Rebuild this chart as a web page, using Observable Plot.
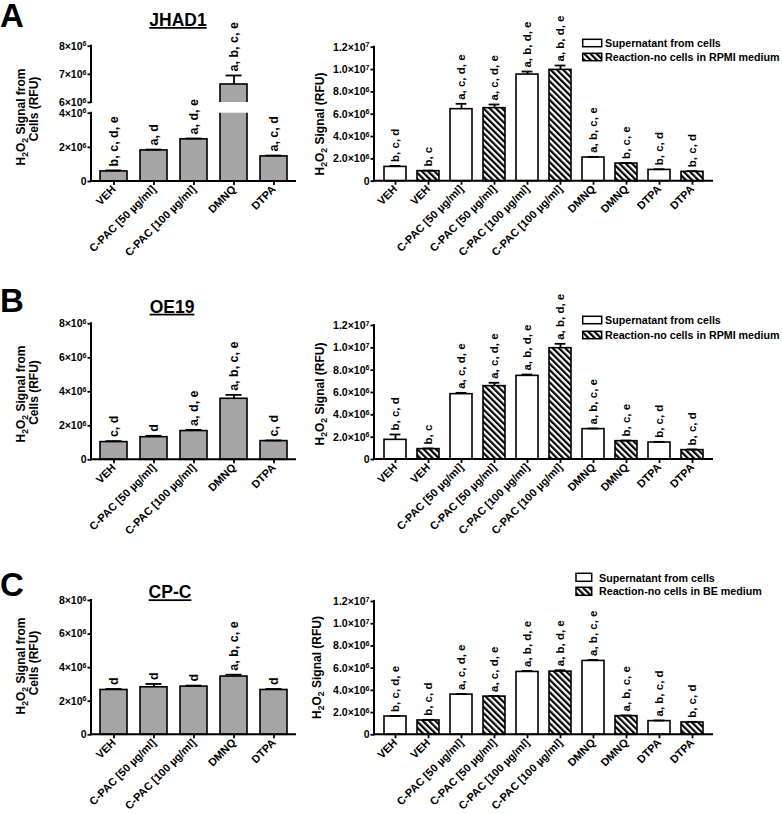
<!DOCTYPE html>
<html><head><meta charset="utf-8">
<script src="https://cdn.jsdelivr.net/npm/d3@7"></script>
<script src="https://cdn.jsdelivr.net/npm/@observablehq/plot@0.6"></script>
<style>
html,body{margin:0;padding:0;background:#fff;}
#fig{position:relative;width:782px;height:814px;overflow:hidden;font-family:"Liberation Sans",Arial,sans-serif;}
</style></head><body><div id="fig"></div>
<script>
// ---------------- DATA ----------------
const treatments = ["VEH", "C-PAC [50 µg/ml]", "C-PAC [100 µg/ml]", "DMNQ", "DTPA"];
const cellLines = ["JHAD1", "OE19", "CP-C"];
const panelLetters = ["A", "B", "C"];
const legendSupernatant = "Supernatant from cells";
const legendReaction = ["Reaction-no cells in RPMI medium", "Reaction-no cells in RPMI medium", "Reaction-no cells in BE medium"];
const leftAxisTitle = ["H₂O₂ Signal from", "Cells  (RFU)"];
const rightAxisTitle = "H₂O₂ Signal (RFU)";

// y ticks and labels
const cellTicksBroken = [0, 2e6, 4e6, 6e6, 7e6, 8e6];
const cellTickLabelsBroken = ["0", "2×10⁶", "4×10⁶", "6×10⁶", "7×10⁶", "8×10⁶"];
const cellTicks = [0, 2e6, 4e6, 6e6, 8e6];
const cellTickLabels = ["0", "2×10⁶", "4×10⁶", "6×10⁶", "8×10⁶"];
const supTicks = [0, 2e6, 4e6, 6e6, 8e6, 1e7, 1.2e7];
const supTickLabels = ["0", "2.0×10⁶", "4.0×10⁶", "6.0×10⁶", "8.0×10⁶", "1.0×10⁷", "1.2×10⁷"];
const brokenAxisDomain = [0, 4e6, 6e6, 8e6];

// JHAD1
const jhad1Cells = [0.59e6, 1.82e6, 2.47e6, 6.64e6, 1.47e6];
const jhad1CellsSem = [0.06e6, 0.05e6, 0.05e6, 0.32e6, 0.05e6];
const jhad1CellsLetters = ["b, c, d, e", "a, d", "a, d, e", "a, b, c, e", "a, c, d"];
const jhad1Sup = [1.28e6, 6.45e6, 9.55e6, 2.12e6, 1.01e6];
const jhad1SupSem = [0.09e6, 0.48e6, 0.27e6, 0.06e6, 0.06e6];
const jhad1SupLetters = ["b, c, d", "a, c, d, e", "a, b, d, e", "a, b, c, e", "b, c, d"];
const jhad1Rxn = [0.90e6, 6.54e6, 9.97e6, 1.58e6, 0.84e6];
const jhad1RxnSem = [0.05e6, 0.33e6, 0.39e6, 0.06e6, 0.06e6];
const jhad1RxnLetters = ["b, c", "a, c, d, e", "a, b, d, e", "b, c, e", "b, c, d"];

// OE19
const oe19Cells = [1.04e6, 1.33e6, 1.69e6, 3.59e6, 1.10e6];
const oe19CellsSem = [0.06e6, 0.08e6, 0.07e6, 0.23e6, 0.04e6];
const oe19CellsLetters = ["c, d", "d", "a, d, e", "a, b, c, e", "c, d"];
const oe19Sup = [1.76e6, 5.85e6, 7.49e6, 2.72e6, 1.52e6];
const oe19SupSem = [0.48e6, 0.12e6, 0.12e6, 0.06e6, 0.06e6];
const oe19SupLetters = ["b, c, d", "a, c, d, e", "a, b, d, e", "a, b, c, e", "b, c, d"];
const oe19Rxn = [0.93e6, 6.57e6, 9.97e6, 1.64e6, 0.84e6];
const oe19RxnSem = [0.06e6, 0.30e6, 0.39e6, 0.06e6, 0.06e6];
const oe19RxnLetters = ["b, c", "a, c, d, e", "a, b, d, e", "b, c, e", "b, c, d"];

// CP-C
const cpcCells = [2.67e6, 2.83e6, 2.87e6, 3.47e6, 2.67e6];
const cpcCellsSem = [0.06e6, 0.20e6, 0.06e6, 0.11e6, 0.06e6];
const cpcCellsLetters = ["d", "d", "d", "a, b, c, e", "d"];
const cpcSup = [1.65e6, 3.62e6, 5.66e6, 6.65e6, 1.23e6];
const cpcSupSem = [0.05e6, 0.06e6, 0.09e6, 0.09e6, 0.06e6];
const cpcSupLetters = ["b, c, d, e", "a, c, d, e", "a, b, d, e", "a, b, c, e", "a, b, c, d"];
const cpcRxn = [1.29e6, 3.44e6, 5.69e6, 1.68e6, 1.11e6];
const cpcRxnSem = [0.06e6, 0.06e6, 0.12e6, 0.06e6, 0.06e6];
const cpcRxnLetters = ["b, c, d", "a, c, d, e", "a, b, d, e", "a, b, c, e", "b, c, d"];

// ---------------- HELPERS ----------------
const NS = "http://www.w3.org/2000/svg";
function el(tag, attrs = {}, text) {
  const e = document.createElementNS(NS, tag);
  for (const k in attrs) e.setAttribute(k, attrs[k]);
  if (text != null) e.textContent = text;
  return e;
}
const FONT = "'Liberation Sans', Arial, sans-serif";
const SUPS = "⁰¹²³⁴⁵⁶⁷⁸⁹";
const fig = document.getElementById("fig");

function hatchPattern(id) {
  const p = el("pattern", {id, patternUnits: "userSpaceOnUse", width: 4.4, height: 4.4, patternTransform: "rotate(-45)"});
  p.append(el("rect", {width: 4.4, height: 4.4, fill: "white"}));
  p.append(el("rect", {width: 2.2, height: 4.4, fill: "black"}));
  return p;
}
function hatchDefs(id) {
  return () => { const d = el("defs"); d.append(hatchPattern(id)); return d; };
}
function axisLines(segments, tf) {
  const f = tf || (v => v);
  return (index, scales, values, dims) => {
    const g = el("g", {stroke: "black", "stroke-width": 2, "stroke-linecap": "square", fill: "none"});
    const xl = dims.marginLeft, xr = dims.width - dims.marginRight, y0 = scales.y(f(0));
    g.append(el("line", {x1: xl, x2: xr, y1: y0, y2: y0}));
    for (const [a, b] of segments) g.append(el("line", {x1: xl, x2: xl, y1: scales.y(f(a)), y2: scales.y(f(b))}));
    return g;
  };
}
function fixSuperscripts(svg) {
  svg.querySelectorAll('[aria-label="y-axis tick label"] text').forEach(t => {
    const s = t.textContent;
    const m = s.match(/^(.*×10)(.)$/);
    if (m) {
      t.textContent = m[1];
      const digit = String(SUPS.indexOf(m[2]));
      t.append(el("tspan", {dy: "-0.45em", "font-size": "0.68em"}, digit));
    }
  });
}

function makePlot(cfg, n, pad, marks) {
  const {left, top, width, height, x0, x1, y0, yTop, yDomain, yTransform} = cfg;
  const y = yTransform ? {domain: yDomain, transform: yTransform} : {domain: yDomain};
  const svg = Plot.plot({
    width, height,
    marginLeft: x0 - left, marginRight: left + width - x1,
    marginTop: yTop - top, marginBottom: top + height - y0,
    x: {type: "band", domain: d3.range(n), paddingInner: pad[0], paddingOuter: pad[1], align: 0.5},
    y,
    style: {position: "absolute", left: left + "px", top: top + "px", background: "transparent",
            overflow: "visible", fontFamily: FONT, fontWeight: "bold", color: "black"},
    marks
  });
  fixSuperscripts(svg);
  fig.append(svg);
}

function cellPanel(cfg, values, sem, letters, ticks, tickLabels, segments, gap) {
  const data = values.map((v, i) => ({i, v, e: v + sem[i], t: letters[i]}));
  // axis ticks are placed in the (possibly transformed) scale space
  const tickPos = cfg.yTransform ? ticks.map(cfg.yTransform) : ticks;
  const marks = [
    Plot.barY(data, {x: "i", y1: () => 0, y2: "v", fill: "#a6a6a6", stroke: "black", strokeWidth: 1.6})
  ];
  if (gap) marks.push(Plot.barY(data.filter(d => d.v > gap[1]),
    {x: "i", y1: () => gap[0], y2: () => gap[1], fill: "white", insetLeft: -2, insetRight: -2}));
  marks.push(
    Plot.ruleX(data, {x: "i", y1: "v", y2: "e", strokeWidth: 1.8}),
    Plot.tickY(data, {x: "i", y: "e", strokeWidth: 1.8, insetLeft: 5.5, insetRight: 5.5}),
    Plot.text(data, {x: "i", y: "e", text: "t", rotate: -90, textAnchor: "start", dy: -4, fontSize: 12.5, fontWeight: "bold"}),
    axisLines(segments, cfg.yTransform),
    Plot.axisY({ticks: tickPos, tickFormat: d => tickLabels[tickPos.indexOf(d)], tickSize: 3.5, tickPadding: 1.5,
      strokeWidth: 1.8, fontSize: 10.5, fontWeight: "bold", label: null}),
    Plot.axisX({tickFormat: i => treatments[i], tickRotate: -45, tickSize: 4, tickPadding: 2,
      strokeWidth: 1.8, fontSize: 11, fontWeight: "bold", label: null})
  );
  makePlot(cfg, values.length, [0.33, 0.19], marks);
}

function supPanel(cfg, pid, sup, supSem, supLetters, rxn, rxnSem, rxnLetters) {
  const data = [];
  treatments.forEach((t, k) => {
    data.push({i: 2 * k, v: sup[k], e: sup[k] + supSem[k], t: supLetters[k], label: t, h: false});
    data.push({i: 2 * k + 1, v: rxn[k], e: rxn[k] + rxnSem[k], t: rxnLetters[k], label: t, h: true});
  });
  const labels = data.map(d => d.label);
  const marks = [
    hatchDefs(pid),
    Plot.barY(data.filter(d => !d.h), {x: "i", y1: 0, y2: "v", fill: "white", stroke: "black", strokeWidth: 1.6}),
    Plot.barY(data.filter(d => d.h), {x: "i", y1: 0, y2: "v", fill: `url(#${pid})`, stroke: "black", strokeWidth: 1.6}),
    Plot.ruleX(data, {x: "i", y1: "v", y2: "e", strokeWidth: 1.8}),
    Plot.tickY(data, {x: "i", y: "e", strokeWidth: 1.8, insetLeft: 5.6, insetRight: 5.6}),
    Plot.text(data, {x: "i", y: "e", text: "t", rotate: -90, textAnchor: "start", dy: -4, fontSize: 11.5, fontWeight: "bold"}),
    axisLines([[0, 1.2e7]]),
    Plot.axisY({ticks: supTicks, tickFormat: d => supTickLabels[supTicks.indexOf(d)], tickSize: 3.5, tickPadding: 1.5,
      strokeWidth: 1.8, fontSize: 10.5, fontWeight: "bold", label: null}),
    Plot.axisX({tickFormat: i => labels[i], tickRotate: -45, tickSize: 4, tickPadding: 2,
      strokeWidth: 1.8, fontSize: 11, fontWeight: "bold", label: null})
  ];
  makePlot(cfg, data.length, [0.336, 0.198], marks);
}

// ---------------- LAYOUT ----------------
const L = {left: 40, width: 270, x0: 91, x1: 295};
const R = {left: 330, width: 450, x0: 374, x1: 712};

// broken y axis for JHAD1 cells: value -> pixel distance above the baseline
const brokenPixels = [0, 68.3, 79, 135.3];
const brokenMap = d3.scaleLinear().domain(brokenAxisDomain).range(brokenPixels);

cellPanel({...L, top: 0, height: 270, y0: 181, yTop: 45.7, yDomain: [brokenPixels[0], brokenPixels[3]], yTransform: v => brokenMap(v)},
  jhad1Cells, jhad1CellsSem, jhad1CellsLetters, cellTicksBroken, cellTickLabelsBroken,
  [[0, brokenAxisDomain[1]], [brokenAxisDomain[2], brokenAxisDomain[3]]], [brokenAxisDomain[1], brokenAxisDomain[2]]);
supPanel({...R, top: 0, height: 270, y0: 180.7, yTop: 46.7, yDomain: [0, 1.2e7]}, "hatchA",
  jhad1Sup, jhad1SupSem, jhad1SupLetters, jhad1Rxn, jhad1RxnSem, jhad1RxnLetters);

cellPanel({...L, top: 270, height: 270, y0: 459.3, yTop: 323.3, yDomain: [0, 8e6]},
  oe19Cells, oe19CellsSem, oe19CellsLetters, cellTicks, cellTickLabels, [[0, 8e6]], null);
supPanel({...R, top: 270, height: 270, y0: 459, yTop: 325, yDomain: [0, 1.2e7]}, "hatchB",
  oe19Sup, oe19SupSem, oe19SupLetters, oe19Rxn, oe19RxnSem, oe19RxnLetters);

cellPanel({...L, top: 530, height: 284, y0: 734.3, yTop: 600, yDomain: [0, 8e6]},
  cpcCells, cpcCellsSem, cpcCellsLetters, cellTicks, cellTickLabels, [[0, 8e6]], null);
supPanel({...R, top: 530, height: 284, y0: 734.3, yTop: 601, yDomain: [0, 1.2e7]}, "hatchC",
  cpcSup, cpcSupSem, cpcSupLetters, cpcRxn, cpcRxnSem, cpcRxnLetters);

// ---------------- TEXT OVERLAY ----------------
const ov = el("svg", {width: 782, height: 814, style: `position:absolute;left:0;top:0;overflow:visible;font-family:${FONT};font-weight:bold`});
const defs = el("defs"); defs.append(hatchPattern("hatchLegend")); ov.append(defs);

function rotLabel(x, cy, str, size) {
  const t = el("text", {transform: `translate(${x},${cy}) rotate(-90)`, "text-anchor": "middle", "font-size": size});
  const SUB = "₀₁₂₃₄₅₆₇₈₉";
  let shifted = false, buf = "";
  const flush = (sub) => {
    if (!buf) return;
    const a = {};
    if (sub && !shifted) { a.dy = size * 0.25; shifted = true; a["font-size"] = size * 0.72; }
    else if (!sub && shifted) { a.dy = -size * 0.25; shifted = false; }
    else if (sub) a["font-size"] = size * 0.72;
    t.append(el("tspan", a, buf)); buf = "";
  };
  let curSub = false;
  for (const ch of str) {
    const isSub = SUB.includes(ch);
    if (isSub !== curSub) { flush(curSub); curSub = isSub; }
    buf += isSub ? String(SUB.indexOf(ch)) : ch;
  }
  flush(curSub);
  ov.append(t);
}

const letterBase = [27, 312, 596];
const titlePos = [[178, 26], [172, 312.7], [170, 598.3]];
const leftLabelY = [[117, 109], [394, 392.5], [666, 663]];
const rightLabel = [[323.5, 124], [323.5, 394], [321, 667.5]];
const legendPos = [
  {x: 582.7, w: 19, y1: 39.3, y2: 53.3, h: 7.4, tx: 605, b1: 46.7, b2: 60.7},
  {x: 582.7, w: 19, y1: 316.3, y2: 331.3, h: 7.4, tx: 605, b1: 323.7, b2: 338.7},
  {x: 576, w: 15.7, y1: 573.3, y2: 587.3, h: 8, tx: 599, b1: 581.7, b2: 595.3}
];

for (let p = 0; p < 3; p++) {
  ov.append(el("text", {x: 0, y: letterBase[p], "font-size": 33}, panelLetters[p]));
  ov.append(el("text", {x: titlePos[p][0], y: titlePos[p][1], "font-size": 17.5, "text-anchor": "middle", "text-decoration": "underline"}, cellLines[p]));
  rotLabel(24.5, leftLabelY[p][0], leftAxisTitle[0], 12);
  rotLabel(38, leftLabelY[p][1], leftAxisTitle[1], 12);
  rotLabel(rightLabel[p][0], rightLabel[p][1], rightAxisTitle, 12);
  const lg = legendPos[p];
  ov.append(el("rect", {x: lg.x, y: lg.y1, width: lg.w, height: lg.h, fill: "white", stroke: "black", "stroke-width": 1.5}));
  ov.append(el("rect", {x: lg.x, y: lg.y2, width: lg.w, height: lg.h, fill: "url(#hatchLegend)", stroke: "black", "stroke-width": 1.5}));
  ov.append(el("text", {x: lg.tx, y: lg.b1, "font-size": 10.7}, legendSupernatant));
  ov.append(el("text", {x: lg.tx, y: lg.b2, "font-size": 10.7}, legendReaction[p]));
}
fig.append(ov);
</script></body></html>
